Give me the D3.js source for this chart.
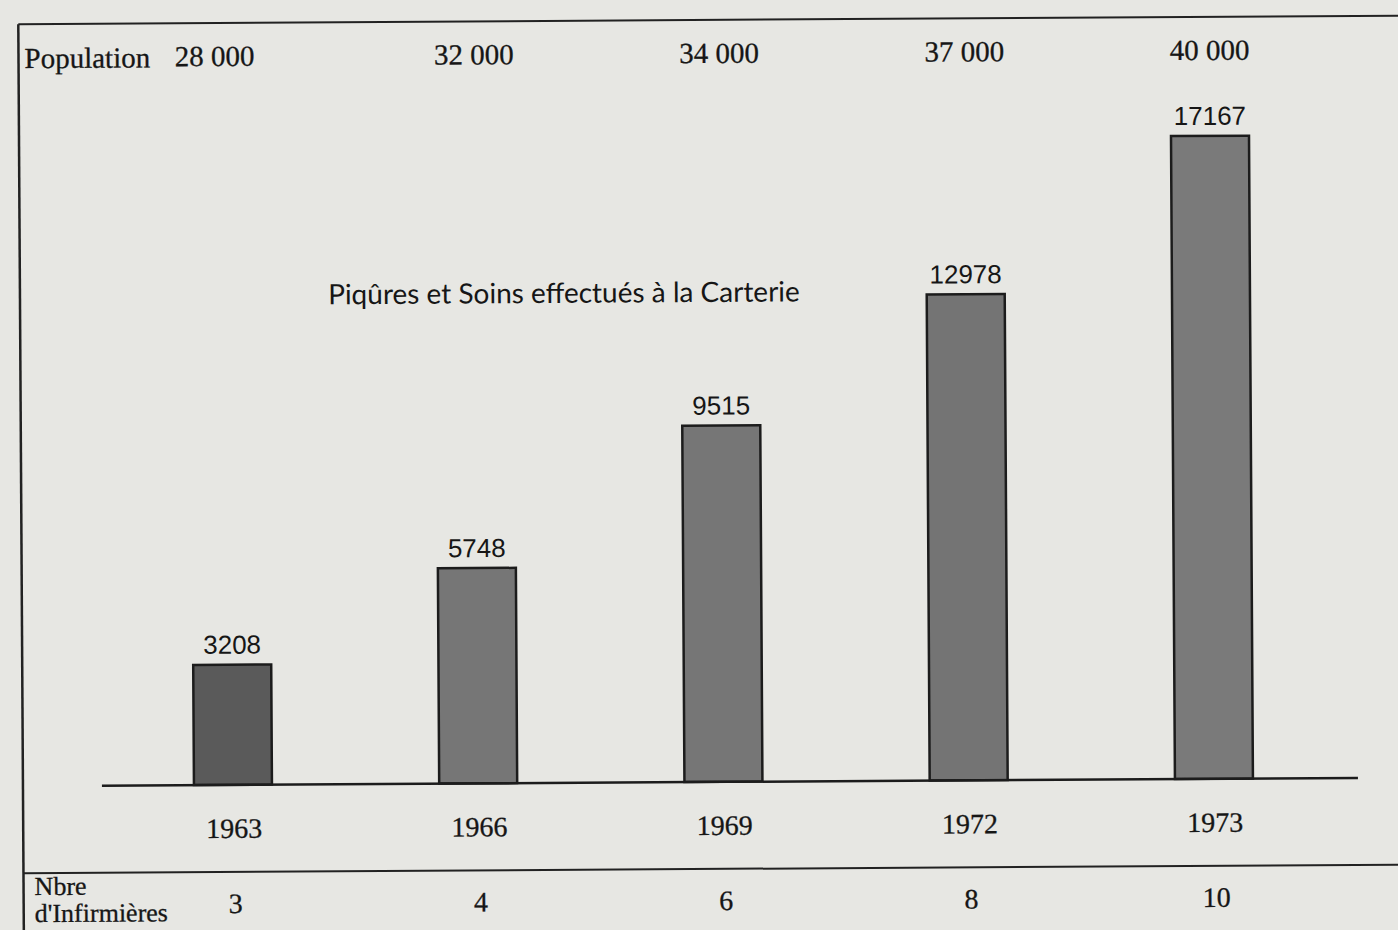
<!DOCTYPE html>
<html><head><meta charset="utf-8">
<script src="https://cdn.jsdelivr.net/npm/d3@7"></script>
<style>html,body{margin:0;padding:0;background:#e7e7e3;}svg{display:block;}
.sf{font-family:'Liberation Serif', 'Times New Roman', serif; stroke:#161616; stroke-width:0.3px;}</style>
</head><body>
<script>
const years = ["1963", "1966", "1969", "1972", "1973"];
const soins = [3208, 5748, 9515, 12978, 17167];
const population = ["28 000", "32 000", "34 000", "37 000", "40 000"];
const infirmieres = ["3", "4", "6", "8", "10"];
const barColors = ["#5a5a5a", "#767676", "#767676", "#747474", "#7a7a7a"];

const W = 1398, H = 930;
const svg = d3.select("body").append("svg").attr("width", W).attr("height", H);
svg.append("rect").attr("width", W).attr("height", H).attr("fill", "#e7e7e3");

const g = svg.append("g").attr("transform", "rotate(-0.35 700 465)");

const base = 782;
const x = d3.scalePoint().domain(years).range([231, 1212]);
const y = d3.scaleLinear().domain([0, 17167]).range([base, base - 643]);
const bw = 78;
const ink = "#161616";

// frame
g.append("line").attr("x1", 21).attr("x2", 1420).attr("y1", 20).attr("y2", 20).attr("stroke", "#222").attr("stroke-width", 2);
g.append("line").attr("x1", 21).attr("x2", 21).attr("y1", 20).attr("y2", 940).attr("stroke", "#222").attr("stroke-width", 2.5);
g.append("line").attr("x1", 21).attr("x2", 1420).attr("y1", 869).attr("y2", 869).attr("stroke", "#222").attr("stroke-width", 2);

// population row
g.append("text").attr("class", "sf").attr("x", 27).attr("y", 64).attr("font-size", 29).attr("fill", ink).text("Population");
g.selectAll("text.pop").data(population).join("text").attr("class", "pop sf")
  .attr("x", (d, i) => x(years[i]) - (i === 0 ? 14 : 0)).attr("y", 63)
  .attr("text-anchor", "middle").attr("font-size", 29).attr("fill", ink).text(d => d);

// subtitle
g.append("text").attr("x", 565).attr("y", 302).attr("text-anchor", "middle")
  .attr("font-family", "Lato, 'Open Sans', sans-serif").attr("font-size", 28).attr("fill", ink)
  .text("Piqûres et Soins effectués à la Carterie");

// bars
g.selectAll("rect.bar").data(soins).join("rect").attr("class", "bar")
  .attr("x", (d, i) => x(years[i]) - bw / 2).attr("width", bw)
  .attr("y", d => y(d)).attr("height", d => base - y(d))
  .attr("fill", (d, i) => barColors[i]).attr("stroke", "#1c1c1c").attr("stroke-width", 2.5);

// value labels
g.selectAll("text.val").data(soins).join("text").attr("class", "val")
  .attr("x", (d, i) => x(years[i])).attr("y", d => y(d) - 11)
  .attr("text-anchor", "middle").attr("font-family", "'Liberation Sans', Arial, sans-serif").attr("font-size", 26).attr("fill", ink)
  .text(d => d);

// baseline
g.append("line").attr("x1", 100).attr("x2", 1356).attr("y1", base).attr("y2", base).attr("stroke", "#1c1c1c").attr("stroke-width", 2.5);

// years
g.selectAll("text.yr").data(years).join("text").attr("class", "yr sf")
  .attr("x", d => x(d) + 1).attr("y", 835).attr("text-anchor", "middle")
  .attr("font-size", 28).attr("fill", ink).text(d => d);

// nurses row
g.append("text").attr("class", "sf").attr("x", 32).attr("y", 891).attr("font-size", 26).attr("fill", ink).text("Nbre");
g.append("text").attr("class", "sf").attr("x", 32).attr("y", 918).attr("font-size", 26).attr("fill", ink).text("d'Infirmières");
g.selectAll("text.inf").data(infirmieres).join("text").attr("class", "inf sf")
  .attr("x", (d, i) => x(years[i]) + 2).attr("y", 910).attr("text-anchor", "middle")
  .attr("font-size", 28).attr("fill", ink).text(d => d);
</script>
</body></html>
